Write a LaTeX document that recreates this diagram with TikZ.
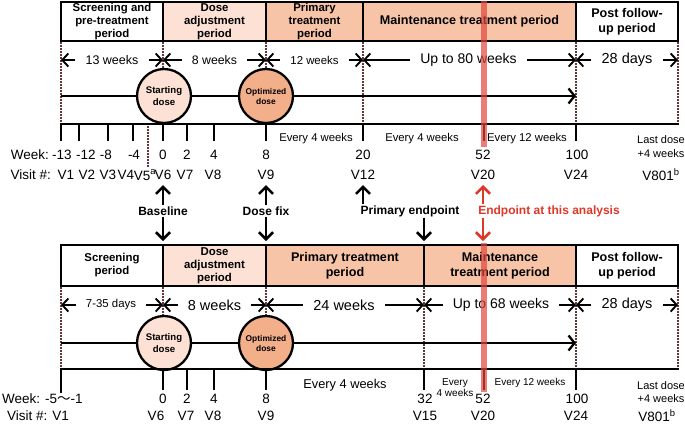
\documentclass[tikz,border=0pt]{standalone}
\usepackage{fontspec}
\setmainfont{Liberation Sans}
\newfontfamily\cjkfont{Noto Sans CJK JP}
\usetikzlibrary{arrows.meta}

\definecolor{lightpeach}{RGB}{252,225,212}
\definecolor{peach}{RGB}{248,196,168}
\definecolor{darkpeach}{RGB}{243,175,138}
\definecolor{markred}{RGB}{222,55,40}
\definecolor{barred}{RGB}{225,70,60}
\definecolor{dotbrown}{RGB}{100,55,55}

\tikzset{%
period/.style={draw, line width=2.4pt, inner sep=0pt, align=center, font=\bfseries\fontsize{11.4}{13}\selectfont},
periodbig/.style={period, font=\bfseries\fontsize{12.6}{14.5}\selectfont},
bound/.style={color=dotbrown, line width=1.5pt, dash pattern=on 1.5pt off 1.5pt},
spanarrow/.style={line width=1.9pt, -{Straight Barb[length=6pt,width=13pt]}},
spanlabel/.style={inner xsep=10pt, inner ysep=1pt},
dosedot/.style={circle, draw, line width=2.3pt, minimum size=54pt, inner sep=0pt, align=center},
doseline/.style={line width=2.3pt, -{Straight Barb[length=6pt,width=15pt]}},
timeline/.style={line width=2.5pt, line cap=rect},
visittick/.style={line width=2.5pt},
lbl/.style={inner sep=0pt, font=\fontsize{13.5}{16}\selectfont},
freq/.style={inner sep=0pt, align=center, font=\fontsize{11.3}{13.5}\selectfont},
event/.style={line width=2.6pt, -{Straight Barb[length=7pt,width=14pt]}},
eventlabel/.style={inner sep=1pt, font=\bfseries\fontsize{12}{14}\selectfont},
}

\begin{document}
\begin{tikzpicture}[%
x=1pt, y=-1pt,
]
\useasboundingbox (0,0) rectangle (685,424);
%% ---------- top panel ----------;
%% header;
\node[period, minimum width=102pt, minimum height=39pt] (tScr) at (112,21.5) {Screening and\\pre-treatment\\period};
\node[period, fill=lightpeach, minimum width=103pt, minimum height=39pt] (tAdj) at (214.5,21.5) {Dose\\adjustment\\period};
\node[period, fill=peach, minimum width=97pt, minimum height=39pt] (tPri) at (314.5,21.5) {Primary\\treatment\\period};
\node[periodbig, fill=peach, minimum width=213pt, minimum height=39pt] (tMnt) at (469.5,21.5) {Maintenance treatment period};
\node[periodbig, minimum width=102pt, minimum height=39pt] (tPst) at (627,21.5) {Post follow-\\up period};
%% bounds;
\draw[bound] (61,42) -- (61,124);
\draw[bound] (163,42) -- (163,124);
\draw[bound] (266,42) -- (266,124);
\draw[bound] (363,42) -- (363,124);
\draw[bound] (576,42) -- (576,124);
\draw[bound] (678,42) -- (678,124);
\draw[bound] (148,126) -- (148,167);
%% spans;
\coordinate (tb0) at (61,60);
\coordinate (tb1) at (163,60);
\coordinate (tb2) at (266,60);
\coordinate (tb3) at (363,60);
\coordinate (tb4) at (576,60);
\coordinate (tb5) at (678,60);
\node[spanlabel, font=\fontsize{12.5}{14}\selectfont] (tw13) at (112,60) {13 weeks};
\node[spanlabel, font=\fontsize{12.3}{14}\selectfont] (tw8) at (214.5,60) {8 weeks};
\node[spanlabel, font=\fontsize{11.4}{14}\selectfont] (tw12) at (314.5,60) {12 weeks};
\node[spanlabel, font=\fontsize{14}{16}\selectfont] (tw80) at (468.5,60) {Up to 80 weeks};
\node[spanlabel, font=\fontsize{14.5}{16}\selectfont] (td28) at (627,60) {28 days};
\draw[spanarrow] (tw13) -- (tb0);
\draw[spanarrow] (tw13) -- (tb1);
\draw[spanarrow] (tw8) -- (tb1);
\draw[spanarrow] (tw8) -- (tb2);
\draw[spanarrow] (tw12) -- (tb2);
\draw[spanarrow] (tw12) -- (tb3);
\draw[spanarrow] (tw80) -- (tb3);
\draw[spanarrow] (tw80) -- (tb4);
\draw[spanarrow] (td28) -- (tb4);
\draw[spanarrow] (td28) -- (tb5);
%% dose;
\coordinate (tds) at (61,96);
\coordinate (tde) at (576,96);
\node[dosedot, fill=lightpeach, font=\bfseries\fontsize{9.6}{11.5}\selectfont] (tStart) at (164,96) {Starting\\dose};
\node[dosedot, fill=darkpeach, font=\bfseries\fontsize{8.4}{10}\selectfont] (tOpt) at (266,96) {Optimized\\dose};
\draw[doseline] (tds) -- (tStart) -- (tOpt) -- (tde);
%% axis;
\draw[timeline] (61,124) -- (678,124);
\draw[visittick] (61,124) -- (61,141);
\draw[visittick] (79,124) -- (79,141);
\draw[visittick] (108,124) -- (108,141);
\draw[visittick] (133,124) -- (133,141);
\draw[visittick] (163,124) -- (163,141);
\draw[visittick] (187,124) -- (187,141);
\draw[visittick] (214,124) -- (214,141);
\draw[visittick] (266,124) -- (266,141);
\draw[visittick] (363,124) -- (363,141);
\draw[visittick] (484,124) -- (484,141);
\draw[visittick] (576,124) -- (576,141);
%% intervals;
\node[freq] (tf1) at (316,139) {Every 4 weeks};
\node[freq] (tf2) at (422,139) {Every 4 weeks};
\node[freq] (tf3) at (527,139) {Every 12 weeks};
\node[freq, font=\fontsize{11}{14}\selectfont] (tlast) at (661,147) {Last dose\\+4 weeks};
%% weeks;
\node[lbl, anchor=east] (twk) at (49,155) {Week:};
\node[lbl] (tw1) at (62,155) {-13};
\node[lbl] (tw2) at (86,155) {-12};
\node[lbl] (tw3) at (106,155) {-8};
\node[lbl] (tw4) at (134,155) {-4};
\node[lbl] (tw5) at (163,155) {0};
\node[lbl] (tw6) at (187,155) {2};
\node[lbl] (tw7) at (214,155) {4};
\node[lbl] (tw8n) at (266,155) {8};
\node[lbl] (tw9) at (363,155) {20};
\node[lbl] (tw10) at (483,155) {52};
\node[lbl] (tw11) at (577,155) {100};
%% visits;
\node[lbl, anchor=east] (tvs) at (51,175) {Visit \#:};
\node[lbl] (tv1) at (66,175) {V1};
\node[lbl] (tv2) at (87,175) {V2};
\node[lbl] (tv3) at (108,175) {V3};
\node[lbl] (tv4) at (126,175) {V4};
\node[lbl] (tv5) at (145,175) {V5\textsuperscript{a}};
\node[lbl] (tv6) at (163,175) {V6};
\node[lbl] (tv7) at (185,175) {V7};
\node[lbl] (tv8) at (213,175) {V8};
\node[lbl] (tv9) at (266,175) {V9};
\node[lbl] (tv12) at (363,175) {V12};
\node[lbl] (tv20) at (483,175) {V20};
\node[lbl] (tv24) at (576,175) {V24};
\node[lbl] (tv801) at (661,175) {V801\textsuperscript{b}};
%% ---------- events ----------;
\node[eventlabel] (ebase) at (163,211) {Baseline};
\node[eventlabel] (efix) at (266,211) {Dose fix};
\node[eventlabel] (eprim) at (410,211) {Primary endpoint};
\node[eventlabel, text=markred] (ethis) at (549,211) {Endpoint at this analysis};
\coordinate (ebaseU) at (163,185);
\coordinate (ebaseD) at (163,241);
\coordinate (efixU) at (266,185);
\coordinate (efixD) at (266,241);
\coordinate (eprimU) at (363,185);
\coordinate (eprimD) at (424,241);
\coordinate (ethisU) at (483,185);
\coordinate (ethisD) at (483,241);
\draw[event] (ebase.north) -- (ebaseU);
\draw[event] (ebase.south) -- (ebaseD);
\draw[event] (efix.north) -- (efixU);
\draw[event] (efix.south) -- (efixD);
\draw[event] (eprim.north -| eprimU) -- (eprimU);
\draw[event] (eprim.south -| eprimD) -- (eprimD);
\draw[event, markred] (ethis.north -| ethisU) -- (ethisU);
\draw[event, markred] (ethis.south -| ethisD) -- (ethisD);
%% ---------- bottom panel ----------;
%% header;
\node[period, minimum width=102pt, minimum height=41pt] (bScr) at (112,265.5) {Screening\\period};
\node[period, fill=lightpeach, minimum width=103pt, minimum height=41pt] (bAdj) at (214.5,265.5) {Dose\\adjustment\\period};
\node[periodbig, fill=peach, minimum width=158pt, minimum height=41pt] (bPri) at (345,265.5) {Primary treatment\\period};
\node[periodbig, fill=peach, minimum width=152pt, minimum height=41pt] (bMnt) at (500,265.5) {Maintenance\\treatment period};
\node[periodbig, minimum width=102pt, minimum height=41pt] (bPst) at (627,265.5) {Post follow-\\up period};
%% bounds;
\draw[bound] (61,287) -- (61,369);
\draw[bound] (163,287) -- (163,369);
\draw[bound] (266,287) -- (266,369);
\draw[bound] (424,287) -- (424,369);
\draw[bound] (576,287) -- (576,369);
\draw[bound] (678,287) -- (678,369);
%% spans;
\coordinate (bb0) at (61,305);
\coordinate (bb1) at (163,305);
\coordinate (bb2) at (266,305);
\coordinate (bb3) at (424,305);
\coordinate (bb4) at (576,305);
\coordinate (bb5) at (678,305);
\node[spanlabel, font=\fontsize{11.4}{14}\selectfont] (bd35) at (111,305) {7-35 days};
\node[spanlabel, font=\fontsize{14.5}{16}\selectfont] (bw8) at (214.5,305) {8 weeks};
\node[spanlabel, font=\fontsize{14.5}{16}\selectfont] (bw24) at (344,305) {24 weeks};
\node[spanlabel, font=\fontsize{14}{16}\selectfont] (bw68) at (501,305) {Up to 68 weeks};
\node[spanlabel, font=\fontsize{14.5}{16}\selectfont] (bd28) at (627,305) {28 days};
\draw[spanarrow] (bd35) -- (bb0);
\draw[spanarrow] (bd35) -- (bb1);
\draw[spanarrow] (bw8) -- (bb1);
\draw[spanarrow] (bw8) -- (bb2);
\draw[spanarrow] (bw24) -- (bb2);
\draw[spanarrow] (bw24) -- (bb3);
\draw[spanarrow] (bw68) -- (bb3);
\draw[spanarrow] (bw68) -- (bb4);
\draw[spanarrow] (bd28) -- (bb4);
\draw[spanarrow] (bd28) -- (bb5);
%% dose;
\coordinate (bds) at (61,343);
\coordinate (bde) at (576,343);
\node[dosedot, fill=lightpeach, font=\bfseries\fontsize{9.6}{11.5}\selectfont] (bStart) at (164,343) {Starting\\dose};
\node[dosedot, fill=darkpeach, font=\bfseries\fontsize{8.4}{10}\selectfont] (bOpt) at (266,343) {Optimized\\dose};
\draw[doseline] (bds) -- (bStart) -- (bOpt) -- (bde);
%% axis;
\draw[timeline] (61,369) -- (678,369);
\draw[visittick] (61,369) -- (61,393);
\draw[visittick] (163,369) -- (163,390);
\draw[visittick] (187,369) -- (187,390);
\draw[visittick] (214,369) -- (214,390);
\draw[visittick] (266,369) -- (266,390);
\draw[visittick] (424,369) -- (424,390);
\draw[visittick] (484,369) -- (484,390);
\draw[visittick] (576,369) -- (576,390);
%% intervals;
\node[freq, font=\fontsize{12.8}{15}\selectfont] (bf1) at (345,385) {Every 4 weeks};
\node[freq, font=\fontsize{10}{11}\selectfont] (bf2) at (455,388) {Every\\4 weeks};
\node[freq, font=\fontsize{10}{12}\selectfont] (bf3) at (530,383) {Every 12 weeks};
\node[freq, font=\fontsize{11}{13.5}\selectfont] (blast) at (661,392) {Last dose\\+4 weeks};
%% weeks;
\node[lbl, anchor=west] (bwk) at (2,399) {Week: -5{\cjkfont 〜}-1};
\node[lbl] (bw1) at (163,399) {0};
\node[lbl] (bw2) at (187,399) {2};
\node[lbl] (bw3) at (214,399) {4};
\node[lbl] (bw4) at (266,399) {8};
\node[lbl] (bw5) at (425,399) {32};
\node[lbl] (bw6) at (483,399) {52};
\node[lbl] (bw7) at (577,399) {100};
%% visits;
\node[lbl, anchor=west] (bvs) at (7,416) {Visit \#: V1};
\node[lbl] (bv6) at (156,416) {V6};
\node[lbl] (bv7) at (186,416) {V7};
\node[lbl] (bv8) at (213,416) {V8};
\node[lbl] (bv9) at (266,416) {V9};
\node[lbl] (bv15) at (425,416) {V15};
\node[lbl] (bv20) at (483,416) {V20};
\node[lbl] (bv24) at (576,416) {V24};
\node[lbl] (bv801) at (657,416) {V801\textsuperscript{b}};
%% analysis bars;
\fill[barred, opacity=0.7] (480.5,1) rectangle (487,147);
\fill[barred, opacity=0.7] (480.5,243) rectangle (487,392);
\end{tikzpicture}
\end{document}
